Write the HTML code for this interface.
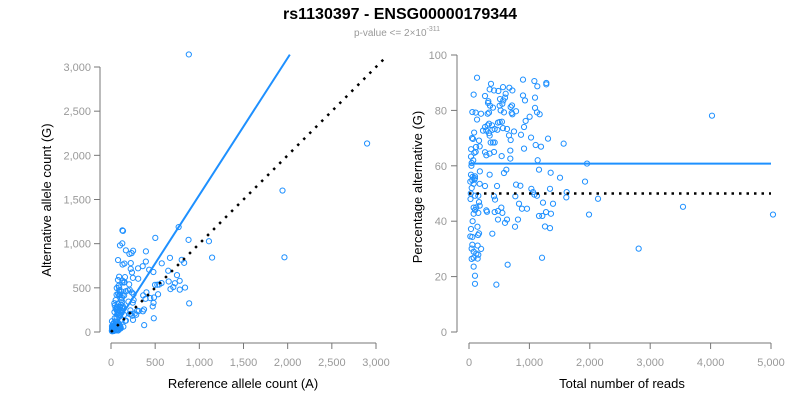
<!DOCTYPE html>
<html><head><meta charset="utf-8"><style>
body{margin:0;background:#fff;}
svg{display:block;font-family:"Liberation Sans",sans-serif;}
</style></head><body>
<svg id="c" width="800" height="400" xmlns="http://www.w3.org/2000/svg">
<text x="400" y="19" text-anchor="middle" font-size="16" font-weight="bold">rs1130397 - ENSG00000179344</text>
<text x="397" y="36" text-anchor="middle" font-size="10" fill="#999">p-value &lt;= 2×10<tspan dy="-5" font-size="7">-311</tspan></text>
</svg>
<script>
const totals=[133,77,55,110,133,199,66,88,33,44,166,177,116,33,99,99,55,22,77,177,99,154,166,77,177,77,154,33,166,22,55,55,143,44,77,121,154,44,77,143,77,99,99,453,640,386,480,596,629,811,762,552,480,425,298,287,535,431,414,265,464,342,579,618,684,541,684,414,265,287,342,397,359,425,690,662,745,469,425,563,629,386,287,232,342,331,265,309,381,331,480,546,508,718,707,779,579,524,331,309,397,348,315,320,508,552,568,513,596,690,712,265,414,342,486,718,563,668,607,364,894,1082,1131,1280,1280,894,927,1093,1093,1126,1170,1004,938,911,861,1027,1308,1104,1192,911,1567,1137,1159,1352,1507,1032,1060,1082,1126,1341,1617,1611,1921,1954,1987,2136,767,779,850,828,877,960,1225,1391,1159,1214,1275,1357,1258,1341,1209,2809,3543,4023,5033,30,40,60,50,90,120,70,150,200,180,110,45,25,35,100,140,85,60];
const pcts=[91.8,85.7,79.4,79.2,76.7,78.8,69.7,64.7,63.3,61,69.1,67,66.8,56.8,56.2,55.5,54.8,54.3,53.5,53.5,49.2,49.2,46.9,44.9,45.6,42.7,43,37.2,35.6,34.5,34.3,31.5,31.2,30.1,29,28.3,27.9,26.4,26.8,26.5,23.6,20.3,17.4,17.1,24.3,35.5,40.6,39.4,40.6,40.6,38,43,43.7,43.3,43.4,43.9,44.9,47.8,49,52.7,52.7,56.8,57.4,58.6,62.6,63.5,65.5,65,64.9,63.8,64.4,68.4,68.4,68.4,69.3,71,72.4,73,73.3,73.6,73.3,73,72.7,72.7,70.9,71.8,74,74.6,74.6,75.2,75.6,75.9,75.8,78.6,79.1,79.7,79.3,80,79.2,78.8,81,81.7,82.7,83.3,81.7,82.4,83.6,84.1,84.6,81.2,81.8,85.2,87.2,87.6,87,87.2,88.4,88.2,86,89.6,91.1,90.6,88.7,89.9,89.4,85.4,83.6,84.6,80.9,79.3,78.6,77.7,76.2,74,71.2,70.2,69.8,67.5,66.9,66.2,68,62,58.6,57.5,55.7,51.7,50.5,49.6,49.2,51.7,50.5,48.6,54.3,60.8,42.4,48.1,49,53.2,52.8,46.3,44.5,44.5,46.7,46.3,41.9,41.9,43.3,42.7,38.1,37.5,26.8,30.1,45.2,78.1,42.4,50,60,40,70,55,45,62,35,30,58,65,52,48,66,44,38,72,56];
const fitPct=[60.8];
const nullPct=[50];
const leftTicks=[0,500,1000,1500,2000,2500,3000];
const rightXTicks=[0,1000,2000,3000,4000,5000];
const rightYTicks=[0,20,40,60,80,100];

const svg=document.getElementById('c');
const NS='http://www.w3.org/2000/svg';
function mk(tag,attrs,parent){const e=document.createElementNS(NS,tag);for(const k in attrs)e.setAttribute(k,attrs[k]);(parent||svg).appendChild(e);return e;}
const fmt=v=>v.toLocaleString('en-US');
// Left scales
const lx=v=>111+v*(376-111)/3000, ly=v=>332-v*(332-67)/3000;
// Right scales
const rx=v=>469+v*(771-469)/5000, ry=v=>332-v*(332-55)/100;
const G='#777';
// left axes
let a=mk('line',{x1:100,y1:ly(0),x2:100,y2:ly(3000),stroke:G});

a=mk('line',{x1:lx(0),y1:343,x2:lx(3000),y2:343,stroke:G});

leftTicks.forEach(t=>{
  mk('line',{x1:94,y1:ly(t),x2:100,y2:ly(t),stroke:G});
  let e=mk('text',{x:91,y:ly(t)+4,'text-anchor':'end','font-size':11,fill:'#999'});e.textContent=fmt(t);
  
  mk('line',{x1:lx(t),y1:343,x2:lx(t),y2:349,stroke:G});
  e=mk('text',{x:lx(t),y:366,'text-anchor':'middle','font-size':11,fill:'#999'});e.textContent=fmt(t);
  
});
a=mk('text',{x:243,y:388,'text-anchor':'middle','font-size':13});a.textContent='Reference allele count (A)';

a=mk('text',{x:0,y:0,'text-anchor':'middle','font-size':13,transform:'translate(51,200) rotate(-90)'});a.textContent='Alternative allele count (G)';

// right axes
a=mk('line',{x1:457,y1:ry(0),x2:457,y2:ry(100),stroke:G});

a=mk('line',{x1:rx(0),y1:343,x2:rx(5000),y2:343,stroke:G});

rightYTicks.forEach(t=>{
  mk('line',{x1:451,y1:ry(t),x2:457,y2:ry(t),stroke:G});
  let e=mk('text',{x:447,y:ry(t)+4,'text-anchor':'end','font-size':11,fill:'#999'});e.textContent=t;
  
});
rightXTicks.forEach(t=>{
  mk('line',{x1:rx(t),y1:343,x2:rx(t),y2:349,stroke:G});
  let e=mk('text',{x:rx(t),y:366,'text-anchor':'middle','font-size':11,fill:'#999'});e.textContent=fmt(t);
  
});
a=mk('text',{x:622,y:388,'text-anchor':'middle','font-size':13});a.textContent='Total number of reads';

a=mk('text',{x:0,y:0,'text-anchor':'middle','font-size':13,transform:'translate(422,187) rotate(-90)'});a.textContent='Percentage alternative (G)';

const B='#1e90ff';
// points
totals.forEach((t,i)=>{
  const p=pcts[i];const alt=t*p/100, ref=t-alt;
  let c=mk('circle',{cx:lx(ref),cy:ly(alt),r:2.6,fill:'none',stroke:B,'stroke-width':1});
  
  c=mk('circle',{cx:rx(t),cy:ry(p),r:2.6,fill:'none',stroke:B,'stroke-width':1});
  
});
// lines
const slope=fitPct[0]/(100-fitPct[0]);
const fx=3140/slope;
a=mk('line',{x1:lx(0),y1:ly(0),x2:lx(fx),y2:ly(fx*slope),stroke:B,'stroke-width':2});

const ns=nullPct[0]/(100-nullPct[0]);
a=mk('line',{x1:lx(0),y1:ly(0),x2:lx(3100),y2:ly(3100*ns),stroke:'#000','stroke-width':2.5,'stroke-dasharray':'2.5 6'});

a=mk('line',{x1:rx(0),y1:ry(fitPct[0]),x2:rx(5000),y2:ry(fitPct[0]),stroke:B,'stroke-width':2});

a=mk('line',{x1:rx(0),y1:ry(nullPct[0]),x2:rx(5000),y2:ry(nullPct[0]),stroke:'#000','stroke-width':2.5,'stroke-dasharray':'2.5 5'});

</script>
</body></html>
